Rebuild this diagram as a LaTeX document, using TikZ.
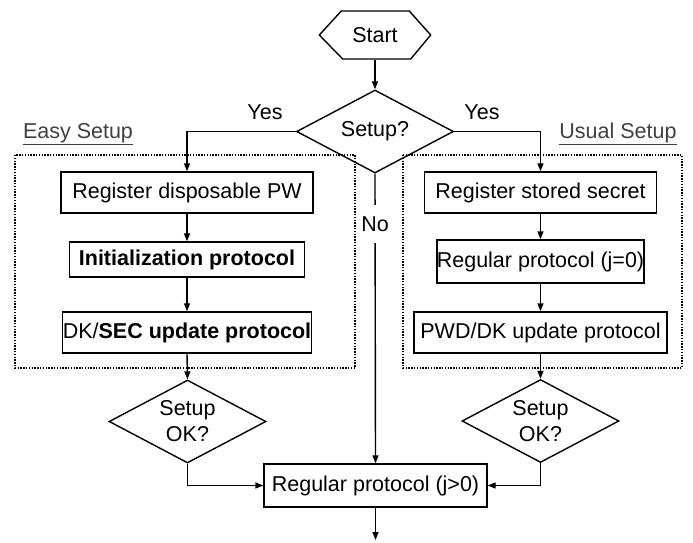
\documentclass[tikz,border=0pt]{standalone}
\usepackage{fontspec}
\setmainfont{Liberation Sans}
\usetikzlibrary{shapes.geometric,arrows.meta}

\begin{document}
\begin{tikzpicture}[x=1pt,y=-1pt,
  font=\fontsize{21.5}{26}\selectfont,
  line width=1.4pt,
  arr/.style={-{Triangle[length=8pt,width=6pt]}},
  stepbox/.style={draw,rectangle,inner sep=0pt,align=center},
  decision/.style={draw,diamond,aspect=1.9,inner sep=0pt,align=center,
                   minimum width=157pt,minimum height=83pt},
  groupbox/.style={dash pattern=on 1.4pt off 1.4pt,line width=1.5pt},
  grouplabel/.style={text=black!75,inner sep=0pt},
  answer/.style={inner sep=0pt}
]
\useasboundingbox (0,0) rectangle (693,542);

% start terminal (hexagon drawn around an invisible node)
\node[minimum width=110pt,minimum height=48pt,inner sep=0pt] (start) at (375,35) {Start};
\draw (start.west) -- ++(22,-24) -- ++(68,0) -- (start.east) -- ++(-20,24) -- ++(-68,0) -- cycle;

% first decision
\node[decision] (setup) at (375,131.5) {Setup?};

% easy setup branch
\node[stepbox,minimum width=252pt,minimum height=41pt] (l1) at (187,192.5) {Register disposable PW};
\node[stepbox,minimum width=235pt,minimum height=35pt] (l2) at (187,259.5) {\bfseries Initialization protocol};
\node[stepbox,minimum width=249pt,minimum height=41pt] (l3) at (187,332.5) {DK/\textbf{SEC update protocol}};
\node[decision] (ok1) at (187.5,421.5) {Setup\\OK?};

% usual setup branch
\node[stepbox,minimum width=232pt,minimum height=41pt] (r1) at (540.5,192.5) {Register stored secret};
\node[stepbox,minimum width=204pt,minimum height=43pt] (r2) at (540.5,261.5) {Regular protocol (j=0)};
\node[stepbox,minimum width=253pt,minimum height=41pt] (r3) at (540.5,332.5) {PWD/DK update protocol};
\node[decision] (ok2) at (540.5,421) {Setup\\OK?};

% common regular protocol
\node[stepbox,minimum width=223pt,minimum height=43pt] (reg) at (375.5,485.5) {Regular protocol (j>0)};
\coordinate (out) at (375.5,540);

% group frames and their titles
\draw[groupbox] (15,155) rectangle (355,368);
\draw[groupbox] (403,155) rectangle (682,368);
\node[grouplabel] (easy) at (78,134) {\underline{Easy Setup}};
\node[grouplabel] (usual) at (618,134) {\underline{Usual Setup}};

% connectors
\draw[arr] (start.south) -- (setup.north);
\draw[arr] (setup.west) -| (l1.north);
\draw[arr] (setup.east) -| (r1.north);
\draw[arr] (l1.south) -- (l2.north);
\draw[arr] (l2.south) -- (l3.north);
\draw[arr] (l3.south) -- (ok1.north);
\draw[arr] (r1.south) -- (r2.north);
\draw[arr] (r2.south) -- (r3.north);
\draw[arr] (r3.south) -- (ok2.north);
\draw[arr] (setup.south) -- (reg.north);
\draw[arr] (ok1.south) |- (reg.west);
\draw[arr] (ok2.south) |- (reg.east);
\draw[arr] (reg.south) -- (out);

% branch labels
\node[answer] (yesl) at (265,112) {Yes};
\node[answer] (yesr) at (482,112) {Yes};
\node[answer,fill=white,minimum height=38pt,minimum width=30pt] (no) at (375,224) {No};
\end{tikzpicture}
\end{document}
